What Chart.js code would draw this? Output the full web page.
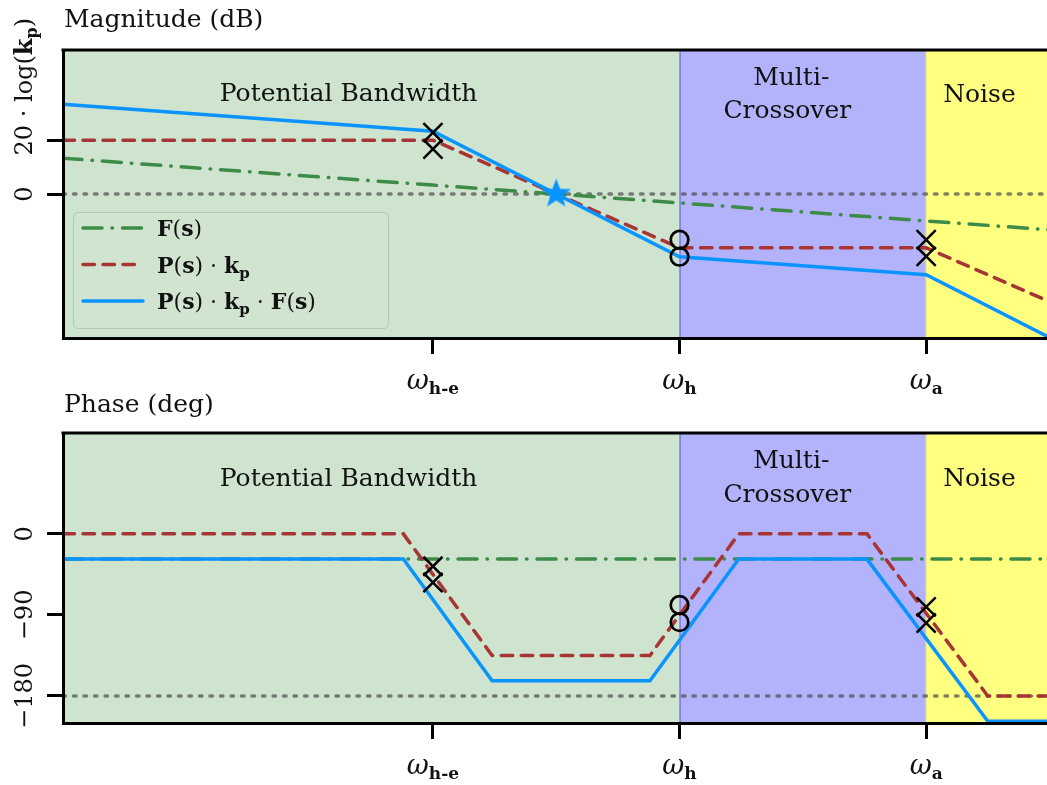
<!DOCTYPE html>
<html>
<head>
<meta charset="utf-8">
<title>Loop shaping regions</title>
<script src="https://cdn.jsdelivr.net/npm/chart.js@4.4.1/dist/chart.umd.min.js"></script>
<style>
  html, body { margin: 0; padding: 0; background: #fff; overflow: hidden; }
  #wrap { position: relative; width: 1047px; height: 785px; }
  canvas { position: absolute; left: 0; }
  #magChart { top: 0; }
  #phaseChart { top: 392px; }
</style>
</head>
<body>
<div id="wrap">
  <canvas id="magChart" width="1047" height="405"></canvas>
  <canvas id="phaseChart" width="1047" height="393"></canvas>
</div>
<script>
// log-frequency axis: 1 = w_h-e, 2 = w_h, 3 = w_a
const magX = [-0.5, 1, 2, 3, 3.5];
const magF = [13.3, 3.3, -3.3, -10, -13.3];
const magPk = [20, 20, -20, -20, -40];
const magPkF = [33.3, 23.3, -23.3, -30, -53.3];

const phaseX = [-0.5, 0.88, 1.24, 1.88, 2.24, 2.76, 3.25, 3.5];
const phaseF = [-28, -28, -28, -28, -28, -28, -28, -28];
const phasePk = [0, 0, -135, -135, 0, 0, -180, -180];
const phasePkF = [-28, -28, -163, -163, -28, -28, -208, -208];

// poles (x) and zeros (o)
const magPoleX = [1, 1, 3, 3];
const magPoleY = [22.8, 16.7, -17, -23.2];
const magZeroX = [2, 2];
const magZeroY = [-17, -23.3];
const crossoverX = [1.5];
const crossoverY = [0];

const phasePoleX = [1, 1, 3, 3];
const phasePoleY = [-36, -54, -81, -99];
const phaseZeroX = [2, 2];
const phaseZeroY = [-79, -98];

const xTicks = [1, 2, 3];
const xTickSubs = ['h-e', 'h', 'a'];
const magTicks = [0, 20];
const phaseTicks = [0, -90, -180];
const magRef = 0;
const phaseRef = -180;

const bandEdges = [-0.5, 2, 3, 3.5];
const bandNames = ['Potential Bandwidth', 'Multi-', 'Crossover', 'Noise'];

const SERIF = '"DejaVu Serif", serif';
const plain = sz => `${sz}px ${SERIF}`;
const bold = sz => `bold ${sz}px ${SERIF}`;
const ital = sz => `italic ${sz}px ${SERIF}`;

const BLUE = '#0a94ff';
const RED = '#a83535';
const GREEN = '#3d8b48';
const GRAY = 'rgba(80, 80, 80, 0.72)';
const bandColors = ['#cfe4cf', '#b3b3fc', '#ffff80'];

const pts = (xs, ys) => xs.map((x, i) => ({ x, y: ys[i] }));

function richWidth(ctx, parts) {
  let w = 0;
  for (const p of parts) { ctx.font = p.font; w += ctx.measureText(p.text).width; }
  return w;
}
function drawRich(ctx, parts, x, y, align) {
  let cx = align === 'center' ? x - richWidth(ctx, parts) / 2 : x;
  ctx.textAlign = 'left';
  ctx.textBaseline = 'alphabetic';
  for (const p of parts) {
    ctx.font = p.font;
    ctx.fillText(p.text, cx, y + (p.dy || 0));
    cx += ctx.measureText(p.text).width;
  }
}

// filled five-point star used as point style
function makeStar(outer, color) {
  const c = document.createElement('canvas');
  c.width = c.height = Math.ceil(outer * 2 + 2);
  const g = c.getContext('2d');
  const m = c.width / 2, inner = outer * 0.42;
  g.beginPath();
  for (let k = 0; k < 10; k++) {
    const r = k % 2 ? inner : outer;
    const a = -Math.PI / 2 + k * Math.PI / 5;
    g.lineTo(m + r * Math.cos(a), m + r * Math.sin(a));
  }
  g.closePath();
  g.fillStyle = color;
  g.fill();
  return c;
}

const legendItems = [
  [{ text: 'F', font: bold(22) }, { text: '(', font: plain(22) }, { text: 's', font: bold(22) }, { text: ')', font: plain(22) }],
  [{ text: 'P', font: bold(22) }, { text: '(', font: plain(22) }, { text: 's', font: bold(22) }, { text: ')', font: plain(22) },
   { text: ' · ', font: plain(22) }, { text: 'k', font: bold(22) }, { text: 'p', font: bold(15), dy: 5 }],
  [{ text: 'P', font: bold(22) }, { text: '(', font: plain(22) }, { text: 's', font: bold(22) }, { text: ')', font: plain(22) },
   { text: ' · ', font: plain(22) }, { text: 'k', font: bold(22) }, { text: 'p', font: bold(15), dy: 5 },
   { text: ' · ', font: plain(22) }, { text: 'F', font: bold(22) }, { text: '(', font: plain(22) }, { text: 's', font: bold(22) }, { text: ')', font: plain(22) }]
];

const bodePlugin = {
  id: 'bode',
  beforeDatasetsDraw(chart, args, opts) {
    const { ctx, chartArea: a, scales: { x, y } } = chart;
    ctx.save();
    for (let i = 0; i < bandColors.length; i++) {
      const x0 = Math.max(a.left, x.getPixelForValue(bandEdges[i]));
      const x1 = Math.min(a.right, x.getPixelForValue(bandEdges[i + 1]));
      ctx.fillStyle = bandColors[i];
      ctx.fillRect(x0, a.top, x1 - x0, a.bottom - a.top);
    }
    ctx.fillStyle = '#5757e6';
    ctx.fillRect(Math.round(x.getPixelForValue(bandEdges[1])) - 0.5, a.top, 1, a.bottom - a.top);
    ctx.fillStyle = '#e6e67a';
    ctx.fillRect(Math.round(x.getPixelForValue(bandEdges[2])) - 0.5, a.top, 1, a.bottom - a.top);

    ctx.fillStyle = '#111';
    opts.bandLabels.forEach((lb, i) => {
      drawRich(ctx, [{ text: bandNames[i], font: plain(25) }],
        x.getPixelForValue(lb[0]), y.getPixelForValue(lb[1]), 'center');
    });
    ctx.restore();
  },
  afterDatasetsDraw(chart, args, opts) {
    if (!opts.legend) return;
    const { ctx, chartArea: a } = chart;
    const bx = a.left + 10, by = a.bottom - 126, bw = 315, bh = 116;
    ctx.save();
    ctx.beginPath();
    ctx.roundRect(bx + 0.5, by + 0.5, bw, bh, 5);
    ctx.fillStyle = 'rgba(207, 228, 207, 0.8)';
    ctx.fill();
    ctx.strokeStyle = 'rgba(0, 0, 0, 0.13)';
    ctx.lineWidth = 1;
    ctx.stroke();
    const sets = chart.data.datasets.filter(d => d.legendIndex !== undefined);
    sets.forEach(d => {
      const cy = by + 16 + d.legendIndex * 36.5;
      ctx.beginPath();
      ctx.setLineDash(d.borderDash || []);
      ctx.lineCap = 'round';
      ctx.lineWidth = d.borderWidth;
      ctx.strokeStyle = d.borderColor;
      ctx.moveTo(bx + 10, cy);
      ctx.lineTo(bx + 70, cy);
      ctx.stroke();
      ctx.fillStyle = '#111';
      drawRich(ctx, legendItems[d.legendIndex], bx + 84, cy + 8, 'left');
    });
    ctx.restore();
  },
  afterDraw(chart, args, opts) {
    const { ctx, chartArea: a, scales: { x, y } } = chart;
    ctx.save();
    // top edge of the frame
    ctx.fillStyle = '#000';
    ctx.fillRect(a.left - 1.5, a.top - 1.5, a.right - a.left + 3, 3);
    ctx.fillStyle = '#111';
    drawRich(ctx, [{ text: opts.title, font: plain(25) }], a.left + 1, a.top - opts.titleGap, 'left');

    xTicks.forEach((v, i) => {
      drawRich(ctx, [{ text: 'ω', font: ital(27) }, { text: xTickSubs[i], font: bold(17), dy: 5 }],
        x.getPixelForValue(v), a.bottom + 51, 'center');
    });

    opts.yTicks.forEach(v => {
      const parts = v === 20
        ? [{ text: '20', font: plain(24) }, { text: ' · log(', font: plain(24) }, { text: 'k', font: bold(24) },
           { text: 'p', font: bold(16), dy: 5 }, { text: ')', font: plain(24) }]
        : [{ text: v < 0 ? '\u2212' + (-v) : String(v), font: plain(24) }];
      ctx.save();
      ctx.translate(32, y.getPixelForValue(v));
      ctx.rotate(-Math.PI / 2);
      let start;
      if (v === 20) { ctx.font = plain(24); start = -ctx.measureText('20').width / 2; }
      else start = -richWidth(ctx, parts) / 2;
      drawRich(ctx, parts, start, 0, 'left');
      ctx.restore();
    });
    ctx.restore();
  }
};

const lineSet = (data, color, dash, legendIndex, order) => ({
  data, showLine: true, borderColor: color, borderWidth: 3.5, borderDash: dash,
  borderCapStyle: 'round', pointRadius: 0, legendIndex, order, tension: 0
});
const poleSet = data => ({
  data, pointStyle: 'crossRot', pointRadius: 13.5, borderColor: '#000',
  pointBorderWidth: 2.5, backgroundColor: 'transparent', order: 1
});
const zeroSet = data => ({
  data, pointStyle: 'circle', pointRadius: 8.8, borderColor: '#000',
  pointBorderWidth: 2.7, backgroundColor: 'transparent', order: 1
});

function bodeChart(id, cfg) {
  return new Chart(document.getElementById(id), {
    type: 'scatter',
    data: { datasets: cfg.datasets },
    options: {
      responsive: false,
      animation: false,
      events: [],
      layout: { autoPadding: false, padding: { top: cfg.padTop, left: 0, right: 0, bottom: 0 } },
      scales: {
        x: {
          type: 'linear', min: -0.5, max: 3.49,
          afterBuildTicks: s => { s.ticks = xTicks.map(v => ({ value: v })); },
          afterFit: s => { s.height = cfg.xAxisHeight; },
          ticks: { display: false },
          grid: { drawOnChartArea: false, drawTicks: true, tickLength: 16, tickWidth: 3, tickColor: '#000' },
          border: { display: true, width: 3, color: '#000', z: 1 }
        },
        y: {
          min: cfg.yMin, max: cfg.yMax,
          afterBuildTicks: s => { s.ticks = cfg.yTicks.map(v => ({ value: v })); },
          afterFit: s => { s.width = 63; },
          ticks: { display: false },
          grid: { drawOnChartArea: false, drawTicks: true, tickLength: 16, tickWidth: 3, tickColor: '#000' },
          border: { display: true, width: 3, color: '#000', z: 1 }
        }
      },
      plugins: {
        legend: { display: false },
        tooltip: { enabled: false },
        bode: cfg.bode
      }
    },
    plugins: [bodePlugin]
  });
}

const dotted = [2.5, 8];
const dashed = [11.5, 8.5];
const dashDot = [19, 10, 0.5, 10];

bodeChart('magChart', {
  padTop: 50, xAxisHeight: 67, yMin: -53.5, yMax: 53.5, yTicks: magTicks,
  datasets: [
    lineSet(pts([magX[0], magX[magX.length - 1]], [magRef, magRef]), GRAY, dotted, undefined, 6),
    lineSet(pts(magX, magF), GREEN, dashDot, 0, 5),
    lineSet(pts(magX, magPk), RED, dashed, 1, 4),
    lineSet(pts(magX, magPkF), BLUE, [], 2, 3),
    poleSet(pts(magPoleX, magPoleY)),
    zeroSet(pts(magZeroX, magZeroY)),
    { data: pts(crossoverX, crossoverY), pointStyle: makeStar(15.5, BLUE), pointRadius: 15.5, order: 0 }
  ],
  bode: {
    title: 'Magnitude (dB)', titleGap: 23, yTicks: magTicks, legend: true,
    bandLabels: [[0.658, 34.4], [2.453, 40.4], [2.437, 28.1], [3.216, 34.2]]
  }
});

bodeChart('phaseChart', {
  padTop: 41, xAxisHeight: 62, yMin: -210, yMax: 112, yTicks: phaseTicks,
  datasets: [
    lineSet(pts([phaseX[0], phaseX[phaseX.length - 1]], [phaseRef, phaseRef]), GRAY, dotted, undefined, 6),
    lineSet(pts(phaseX, phaseF), GREEN, dashDot, undefined, 5),
    lineSet(pts(phaseX, phasePk), RED, dashed, undefined, 4),
    lineSet(pts(phaseX, phasePkF), BLUE, [], undefined, 3),
    poleSet(pts(phasePoleX, phasePoleY)),
    zeroSet(pts(phaseZeroX, phaseZeroY))
  ],
  bode: {
    title: 'Phase (deg)', titleGap: 21, yTicks: phaseTicks, legend: false,
    bandLabels: [[0.658, 52.6], [2.453, 73.3], [2.437, 35.9], [3.216, 53.3]]
  }
});
</script>
</body>
</html>
